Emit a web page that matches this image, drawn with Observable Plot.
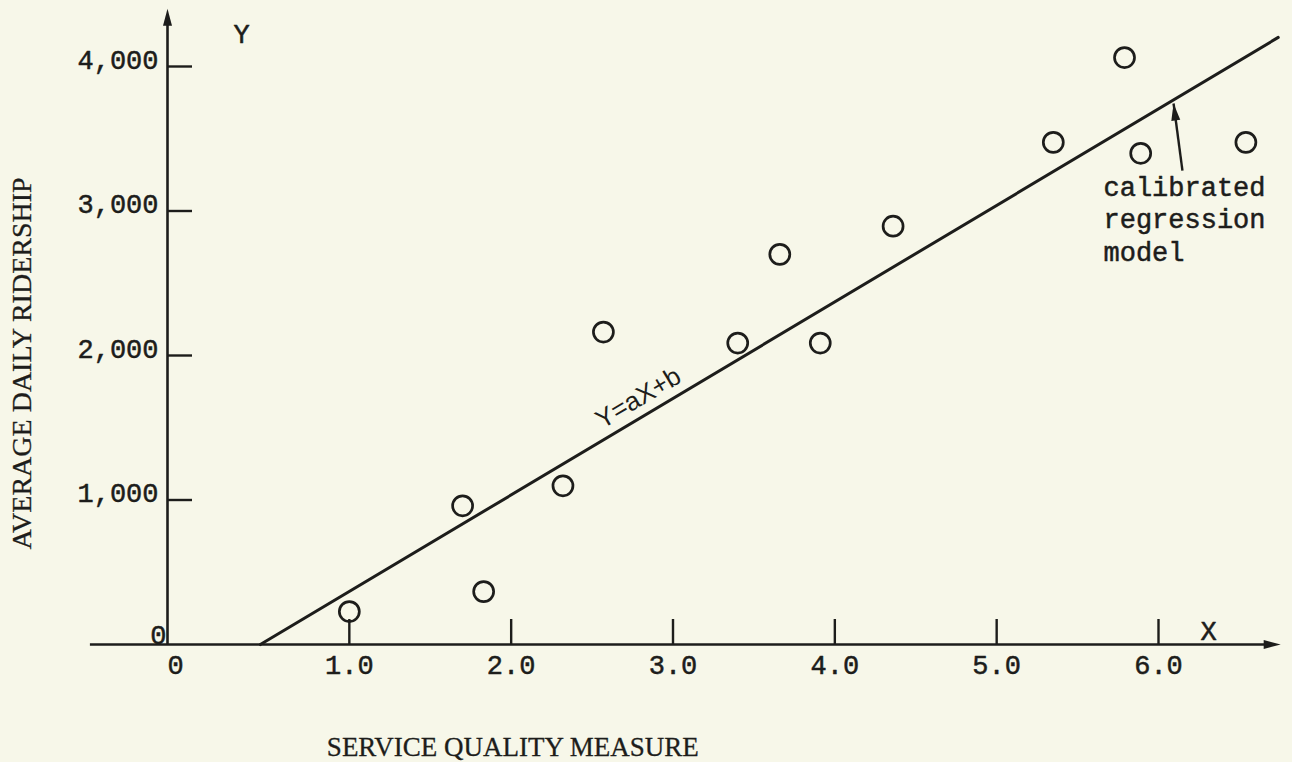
<!DOCTYPE html>
<html>
<head>
<meta charset="utf-8">
<script src="https://cdn.jsdelivr.net/npm/d3@7"></script>
<script src="https://cdn.jsdelivr.net/npm/@observablehq/plot@0.6"></script>
<style>
  html, body { margin: 0; padding: 0; background: #f7f7e9; }
  #chart svg { display: block; }
</style>
</head>
<body>
<div id="chart"></div>
<script>
// ---------- data ----------
const xTicks = [1, 2, 3, 4, 5, 6];
const xTickLabels = ["1.0", "2.0", "3.0", "4.0", "5.0", "6.0"];
const yTicks = [1000, 2000, 3000, 4000];
const yTickLabels = ["1,000", "2,000", "3,000", "4,000"];
const originLabel = "0";

const serviceQuality = [1.00, 1.70, 1.83, 2.32, 2.57, 3.40, 3.66, 3.91, 4.36, 5.35, 5.79, 5.89, 6.54];
const ridership      = [228,  960,  366,  1098, 2162, 2086, 2700, 2086, 2895, 3475, 4062, 3399, 3475];

// calibrated regression model Y = aX + b
const slopeA = 668;
const interceptB = -301;
const fitRange = [0.45, 6.74];

const xTitle = "SERVICE QUALITY MEASURE";
const yTitle = "AVERAGE DAILY RIDERSHIP";
const equationLabel = "Y=aX+b";
const modelNote = ["calibrated", "regression", "model"];
const axisLetters = [
  {text: "Y", x: 0.334, y: 4225},
  {text: "X", x: 6.31, y: 90}
];
// annotation / axis geometry (data units)
const equationAt = {x: 2.786, y: 1706};
const modelNoteAt = {x: 5.66, y: 3263};
const noteArrowTail = {x: 6.148, y: 3280};
const noteArrowTip = {x: 6.093, y: 3744};
const xAxisSpan = [-0.6, 6.70];
const xAxisTip = 6.755;
const yAxisTop = 4400;

// ---------- layout ----------
const W = 1292, H = 762;
const mL = 187, mR = 134, mT = 66, mB = 118;
const xDomain = [0, 6], yDomain = [0, 4000];
const kx = (W - mL - mR) / (xDomain[1] - xDomain[0]);
const ky = (H - mT - mB) / (yDomain[1] - yDomain[0]);

const ink = "#1d1d1b";
const mono = "'Liberation Mono', 'DejaVu Sans Mono', monospace";
const serif = "'Liberation Serif', 'DejaVu Serif', serif";
const sans = "'Liberation Sans', Arial, sans-serif";
const monoStyle = {fontFamily: mono, fontSize: 27, fill: ink, stroke: ink, strokeWidth: 0.5};

// filled triangular arrowhead, tip at origin, pointing along angle (screen coords)
function arrowHead(angleRad, len = 17, half = 4.5) {
  const c = Math.cos(angleRad), s = Math.sin(angleRad);
  return {
    draw(ctx) {
      const bx = -len * c, by = -len * s;
      const px = -s * half, py = c * half;
      ctx.moveTo(0, 0);
      ctx.lineTo(bx + px, by + py);
      ctx.lineTo(bx - px, by - py);
      ctx.closePath();
    }
  };
}

const points = serviceQuality.map((x, i) => ({x, y: ridership[i]}));
const fitLine = fitRange.map(x => ({x, y: slopeA * x + interceptB}));
const xTickTable = xTicks.map((v, i) => ({v, label: xTickLabels[i]}));
const yTickTable = yTicks.map((v, i) => ({v, label: yTickLabels[i]}));

const noteAngle = Math.atan2(-(noteArrowTip.y - noteArrowTail.y) * ky, (noteArrowTip.x - noteArrowTail.x) * kx);
const fitAngleDeg = -Math.atan(slopeA * ky / kx) * 180 / Math.PI;

const chart = Plot.plot({
  width: W,
  height: H,
  marginLeft: mL,
  marginRight: mR,
  marginTop: mT,
  marginBottom: mB,
  x: {domain: xDomain, axis: null},
  y: {domain: yDomain, axis: null},
  style: {background: "#f7f7e9", color: ink, overflow: "visible"},
  marks: [
    // x axis line + arrow
    Plot.ruleY([0], {x1: xAxisSpan[0], x2: xAxisSpan[1], stroke: ink, strokeWidth: 2.6}),
    Plot.dot([{x: xAxisTip, y: 0}], {x: "x", y: "y", symbol: arrowHead(0), fill: ink, stroke: "none"}),
    // y axis line + arrow (drawn slightly left of x = 0, as in the original)
    Plot.ruleX([0], {y1: 0, y2: yAxisTop - 60, dx: -20, stroke: ink, strokeWidth: 2.6}),
    Plot.dot([{x: 0, y: yAxisTop}], {x: "x", y: "y", dx: -20, symbol: arrowHead(-Math.PI / 2), fill: ink, stroke: "none"}),
    // ticks
    Plot.ruleX(xTickTable, {x: "v", y1: 0, y2: 0, insetTop: -25, stroke: ink, strokeWidth: 2.4}),
    Plot.ruleY(yTickTable, {y: "v", x1: 0, x2: 0, dx: -20, insetRight: -25, stroke: ink, strokeWidth: 2.4}),
    // tick labels
    Plot.text(xTickTable, {x: "v", y: 0, text: "label", lineAnchor: "top", dy: 10, ...monoStyle}),
    Plot.text(yTickTable, {x: 0, y: "v", text: "label", textAnchor: "end", lineAnchor: "bottom", dx: -29, dy: 2, ...monoStyle}),
    Plot.text([originLabel], {x: 0, y: 0, dx: -21, dy: -1, textAnchor: "end", lineAnchor: "bottom", ...monoStyle}),
    Plot.text([originLabel], {x: 0, y: 0, dx: -12, dy: 10, lineAnchor: "top", ...monoStyle}),
    // axis letters
    Plot.text(axisLetters, {x: "x", y: "y", text: "text", ...monoStyle}),
    // axis titles
    Plot.text([xTitle], {x: 2.01, y: 0, dy: 111, lineAnchor: "bottom", fontFamily: serif, fontSize: 27, fill: ink, stroke: ink, strokeWidth: 0.3}),
    Plot.text([yTitle], {x: -1.02, y: 1945, rotate: -90, fontFamily: serif, fontSize: 28, fill: ink, stroke: ink, strokeWidth: 0.3}),
    // regression line
    Plot.line(fitLine, {x: "x", y: "y", stroke: ink, strokeWidth: 3}),
    Plot.text([equationLabel], {x: equationAt.x, y: equationAt.y, rotate: fitAngleDeg, fontFamily: sans, fontSize: 26, fill: ink}),
    // observations
    Plot.dot(points, {x: "x", y: "y", r: 10, fill: "none", stroke: ink, strokeWidth: 2.7}),
    // annotation
    Plot.text([modelNote.join("\n")], {x: modelNoteAt.x, y: modelNoteAt.y, textAnchor: "start", lineAnchor: "top", lineHeight: 1.2, ...monoStyle}),
    Plot.link([{x1: noteArrowTail.x, y1: noteArrowTail.y, x2: noteArrowTip.x, y2: noteArrowTip.y}], {x1: "x1", y1: "y1", x2: "x2", y2: "y2", stroke: ink, strokeWidth: 2.4}),
    Plot.dot([noteArrowTip], {x: "x", y: "y", symbol: arrowHead(noteAngle, 17, 4.5), fill: ink, stroke: "none"})
  ]
});
document.getElementById("chart").appendChild(chart);
</script>
</body>
</html>
